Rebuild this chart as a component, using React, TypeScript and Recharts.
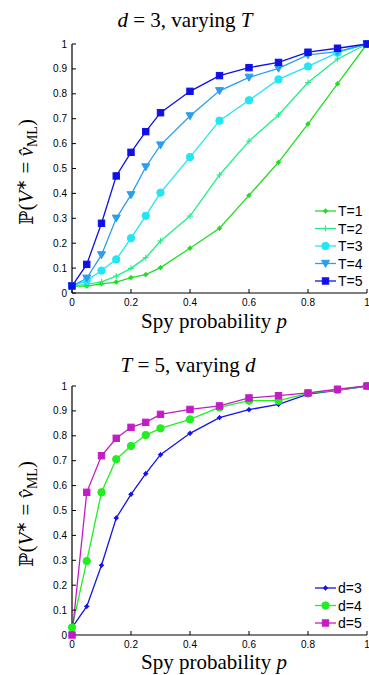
import { LineChart, Line, XAxis, YAxis, Legend } from 'recharts';

// spy probability p (x positions of the markers)
const P = [0, 0.05, 0.1, 0.15, 0.2, 0.25, 0.3, 0.4, 0.5, 0.6, 0.7, 0.8, 0.9, 1];

// top panel: d = 3, varying T
const T1 = [0.028, 0.028, 0.037, 0.044, 0.062, 0.074, 0.102, 0.18, 0.26, 0.392, 0.525, 0.679, 0.84, 1];
const T2 = [0.028, 0.035, 0.045, 0.068, 0.099, 0.142, 0.209, 0.309, 0.474, 0.61, 0.715, 0.845, 0.94, 1];
const T3 = [0.028, 0.05, 0.09, 0.135, 0.22, 0.31, 0.403, 0.546, 0.692, 0.774, 0.858, 0.91, 0.965, 1];
const T4 = [0.028, 0.059, 0.153, 0.3, 0.394, 0.506, 0.594, 0.711, 0.812, 0.866, 0.902, 0.956, 0.969, 1];
const T5 = [0.028, 0.115, 0.28, 0.47, 0.565, 0.648, 0.724, 0.81, 0.873, 0.905, 0.926, 0.967, 0.983, 1];

// bottom panel: T = 5, varying d
const D3 = [0.03, 0.115, 0.28, 0.47, 0.565, 0.648, 0.724, 0.81, 0.873, 0.905, 0.926, 0.967, 0.983, 1];
const D4 = [0.03, 0.297, 0.573, 0.706, 0.759, 0.803, 0.83, 0.866, 0.914, 0.941, 0.941, 0.97, 0.984, 1];
const D5 = [0, 0.573, 0.72, 0.79, 0.834, 0.854, 0.886, 0.906, 0.92, 0.952, 0.961, 0.972, 0.987, 1];

const X_TICKS = [0, 0.2, 0.4, 0.6, 0.8, 1];
const Y_TICKS = [0, 0.1, 0.2, 0.3, 0.4, 0.5, 0.6, 0.7, 0.8, 0.9, 1];

const topSeries = [
  { key: 't1', name: 'T=1', values: T1, color: '#22dd22', shape: 'star' },
  { key: 't2', name: 'T=2', values: T2, color: '#22ee88', shape: 'plus' },
  { key: 't3', name: 'T=3', values: T3, color: '#22e6f5', shape: 'circle' },
  { key: 't4', name: 'T=4', values: T4, color: '#2a9ef0', shape: 'tri' },
  { key: 't5', name: 'T=5', values: T5, color: '#1010e6', shape: 'square' },
];

const bottomSeries = [
  { key: 'd3', name: 'd=3', values: D3, color: '#1414e8', shape: 'star' },
  { key: 'd4', name: 'd=4', values: D4, color: '#22ee22', shape: 'circle' },
  { key: 'd5', name: 'd=5', values: D5, color: '#c41cc4', shape: 'square' },
];

const TICK_FONT = { fontFamily: 'Liberation Sans, Arial, sans-serif', fontSize: 10, fill: '#000' };
const SERIF = 'Liberation Serif, Times New Roman, serif';

function Marker({ shape, x, y, color }: { shape: string; x: number; y: number; color: string }) {
  if (shape === 'circle') return <circle cx={x} cy={y} r={3.7} fill={color} stroke={color} />;
  if (shape === 'square') return <rect x={x - 3.2} y={y - 3.2} width={6.4} height={6.4} fill={color} stroke={color} />;
  if (shape === 'tri')
    return <polygon points={`${x - 4},${y - 3.2} ${x + 4},${y - 3.2} ${x},${y + 3.8}`} fill={color} stroke={color} />;
  if (shape === 'plus')
    return (
      <g stroke={color} strokeWidth={1.1}>
        <line x1={x - 3} y1={y} x2={x + 3} y2={y} />
        <line x1={x} y1={y - 3} x2={x} y2={y + 3} />
      </g>
    );
  // small asterisk
  return (
    <g stroke={color} strokeWidth={1}>
      <circle cx={x} cy={y} r={1.6} fill={color} />
      <line x1={x - 2.6} y1={y} x2={x + 2.6} y2={y} />
      <line x1={x} y1={y - 2.6} x2={x} y2={y + 2.6} />
    </g>
  );
}

function makeDot(shape: string, color: string) {
  return (props: any) => {
    const { cx, cy, index } = props;
    if (cx == null || cy == null) return <g key={`n-${index}`} />;
    return (
      <g key={`${shape}-${index}`}>
        <Marker shape={shape} x={cx} y={cy} color={color} />
      </g>
    );
  };
}

function makeLegend(series: typeof topSeries) {
  return () => (
    <svg width={57} height={series.length * 17.5 + 4} style={{ display: 'block' }}>
      {series.map((s, i) => {
        const y = 8 + i * 17.5;
        return (
          <g key={s.key}>
            <line x1={3} y1={y} x2={24} y2={y} stroke={s.color} strokeWidth={1.3} />
            <Marker shape={s.shape} x={13.5} y={y} color={s.color} />
            <text x={26} y={y} dominantBaseline="central" fontFamily="Liberation Sans, Arial, sans-serif" fontSize={14}>
              {s.name}
            </text>
          </g>
        );
      })}
    </svg>
  );
}

function YLabel({ cy }: { cy: number }) {
  return (
    <text transform={`translate(33 ${cy}) rotate(-90)`} textAnchor="middle" fontFamily={SERIF} fontSize={21}>
      <tspan fontFamily="DejaVu Serif, DejaVu Sans" fontSize={19}>ℙ</tspan>
      <tspan>(</tspan>
      <tspan fontStyle="italic">V</tspan>
      <tspan fontSize={14} dy={-7}>∗</tspan>
      <tspan dy={7}> = </tspan>
      <tspan fontStyle="italic">{'v\u0302'}</tspan>
      <tspan fontSize={14} dy={4}>ML</tspan>
      <tspan dy={-4}>)</tspan>
    </text>
  );
}

function Panel({
  series,
  top,
  height,
  marginTop,
  legendTop,
}: {
  series: typeof topSeries;
  top: number;
  height: number;
  marginTop: number;
  legendTop: number;
}) {
  const data = P.map((p, i) => {
    const row: Record<string, number> = { p };
    series.forEach((s) => (row[s.key] = s.values[i]));
    return row;
  });
  return (
    <div style={{ position: 'absolute', left: 0, top }}>
      <LineChart width={369} height={height} data={data} margin={{ top: marginTop, right: 2, left: 42, bottom: height - marginTop - 249 - 20 }}>
        <XAxis
          dataKey="p"
          type="number"
          domain={[0, 1]}
          ticks={X_TICKS}
          height={20}
          tickSize={-4}
          tickMargin={10}
          tick={TICK_FONT}
          tickFormatter={(v: number) => (v === 0 ? '0' : v === 1 ? '1' : v.toFixed(1))}
          axisLine={{ stroke: '#000', strokeWidth: 1.2 }}
          tickLine={{ stroke: '#000' }}
          interval={0}
        />
        <XAxis
          xAxisId="top"
          orientation="top"
          dataKey="p"
          type="number"
          domain={[0, 1]}
          ticks={X_TICKS}
          height={0}
          tickSize={-4}
          tick={false}
          axisLine={{ stroke: '#000', strokeWidth: 1.2 }}
          tickLine={{ stroke: '#000' }}
        />
        <YAxis
          type="number"
          domain={[0, 1]}
          ticks={Y_TICKS}
          width={30}
          tickSize={-4}
          tickMargin={9}
          tick={TICK_FONT}
          tickFormatter={(v: number) => (v === 0 ? '0' : v === 1 ? '1' : v.toFixed(1))}
          axisLine={{ stroke: '#000', strokeWidth: 1.2 }}
          tickLine={{ stroke: '#000' }}
          interval={0}
        />
        <YAxis
          yAxisId="right"
          orientation="right"
          type="number"
          domain={[0, 1]}
          ticks={Y_TICKS}
          width={0}
          tickSize={-4}
          tick={false}
          axisLine={{ stroke: '#000', strokeWidth: 1.2 }}
          tickLine={{ stroke: '#000' }}
        />
        {series.map((s) => (
          <Line
            key={s.key}
            dataKey={s.key}
            name={s.name}
            stroke={s.color}
            strokeWidth={1.3}
            dot={makeDot(s.shape, s.color)}
            activeDot={false}
            isAnimationActive={false}
          />
        ))}
        <Legend
          layout="vertical"
          align="center"
          verticalAlign="middle"
          content={makeLegend(series)}
          wrapperStyle={{ left: 312, top: legendTop, width: 57 }}
        />
      </LineChart>
    </div>
  );
}

export default function App() {
  return (
    <div style={{ position: 'absolute', left: 0, top: 0, width: 369, height: 675, background: '#fff' }}>
      <Panel series={topSeries} top={0} height={337} marginTop={44} legendTop={203} />
      <Panel series={bottomSeries} top={337} height={338} marginTop={49} legendTop={243} />
      <svg width={369} height={675} style={{ position: 'absolute', left: 0, top: 0, pointerEvents: 'none' }}>
        <text x={185} y={27} textAnchor="middle" fontFamily={SERIF} fontSize={21}>
          <tspan fontStyle="italic">d</tspan>
          <tspan> = 3, varying </tspan>
          <tspan fontStyle="italic">T</tspan>
        </text>
        <text x={214} y={328} textAnchor="middle" fontFamily={SERIF} fontSize={21}>
          Spy probability <tspan fontStyle="italic">p</tspan>
        </text>
        <YLabel cy={172} />
        <text x={188} y={372} textAnchor="middle" fontFamily={SERIF} fontSize={21}>
          <tspan fontStyle="italic">T</tspan>
          <tspan> = 5, varying </tspan>
          <tspan fontStyle="italic">d</tspan>
        </text>
        <text x={214} y={669} textAnchor="middle" fontFamily={SERIF} fontSize={21}>
          Spy probability <tspan fontStyle="italic">p</tspan>
        </text>
        <YLabel cy={514} />
      </svg>
    </div>
  );
}
